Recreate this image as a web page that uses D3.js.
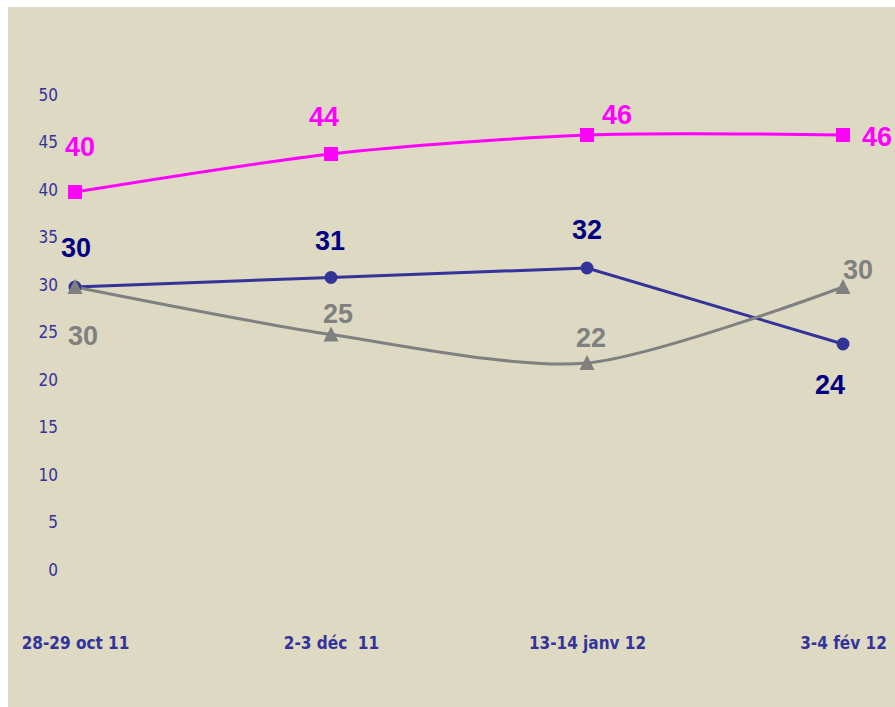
<!DOCTYPE html>
<html>
<head>
<meta charset="utf-8">
<script src="https://cdn.jsdelivr.net/npm/d3@7"></script>
<style>
  html, body { margin: 0; padding: 0; background: #ffffff; }
  svg { display: block; }
</style>
</head>
<body>
<svg id="chart" width="895" height="707"></svg>
<script>
const categories = ["28-29 oct 11", "2-3 déc  11", "13-14 janv 12", "3-4 fév 12"];
const seriesPink = [40, 44, 46, 46];
const seriesNavy = [30, 31, 32, 24];
const seriesGray = [30, 25, 22, 30];
const yTicks = [0, 5, 10, 15, 20, 25, 30, 35, 40, 45, 50];

const svg = d3.select("#chart");
svg.append("rect").attr("x", 8).attr("y", 7).attr("width", 887).attr("height", 700).attr("fill", "#DDD9C3");

const x = d3.scalePoint().domain(categories).range([75, 843]);
const y = d3.scaleLinear().domain([0, 50]).range([572, 97]);

// y axis labels
const yAxis = d3.axisLeft(y).tickValues(yTicks).tickSize(0).tickPadding(0);
const gy = svg.append("g").attr("transform", "translate(58,3)").call(yAxis);
gy.select(".domain").remove();
gy.selectAll("text")
  .attr("fill", "#333399")
  .attr("font-family", "'DejaVu Sans Condensed', 'DejaVu Sans', sans-serif")
  .attr("font-size", 17)
  .attr("dy", "0.02em");

// x axis labels
const xAxis = d3.axisBottom(x).tickSize(0).tickPadding(0);
const gx = svg.append("g").attr("transform", "translate(0,637)").call(xAxis);
gx.select(".domain").remove();
gx.selectAll("text")
  .attr("fill", "#333399")
  .attr("font-family", "'DejaVu Sans Condensed', 'DejaVu Sans', sans-serif")
  .attr("font-weight", "bold")
  .attr("font-size", 17)
  .attr("dy", "0.71em")
  .style("white-space", "pre");

const smooth = d3.line()
  .x((d, i) => x(categories[i]))
  .y(d => y(d))
  .curve(d3.curveCardinal.tension(0.2));
const straight = d3.line()
  .x((d, i) => x(categories[i]))
  .y(d => y(d));

const series = [
  { vals: seriesPink, color: "#FF00FF", marker: "square", labelColor: "#FF00FF", line: smooth,
    dx: [5, -7, 30, 34], dy: [-45, -37, -20, 2] },
  { vals: seriesNavy, color: "#333399", marker: "circle", labelColor: "#000080", line: straight,
    dx: [1, -1, 0, -13], dy: [-39, -37, -38, 41] },
  { vals: seriesGray, color: "#808080", marker: "triangle", labelColor: "#808080", line: smooth,
    dx: [8, 7, 4, 15], dy: [49, -21, -25, -17] }
];

series.forEach(s => {
  svg.append("path").datum(s.vals)
    .attr("d", s.line)
    .attr("fill", "none")
    .attr("stroke", s.color)
    .attr("stroke-width", 3);
});
series.forEach(s => {
  const g = svg.append("g");
  s.vals.forEach((v, i) => {
    const cx = x(categories[i]), cy = y(v);
    if (s.marker === "square") {
      g.append("rect").attr("x", cx - 7).attr("y", cy - 7).attr("width", 14).attr("height", 14).attr("fill", s.color);
    } else if (s.marker === "circle") {
      g.append("circle").attr("cx", cx).attr("cy", cy).attr("r", 6.5).attr("fill", s.color);
    } else {
      g.append("path").attr("d", `M${cx},${cy - 8}L${cx + 7.5},${cy + 7}L${cx - 7.5},${cy + 7}Z`).attr("fill", s.color);
    }
  });
});

// data labels
series.forEach(s => {
  s.vals.forEach((v, i) => {
    svg.append("text")
      .attr("x", x(categories[i]) + s.dx[i])
      .attr("y", y(v) + s.dy[i])
      .attr("text-anchor", "middle")
      .attr("font-family", "'Liberation Sans', Arial, sans-serif")
      .attr("font-weight", "bold")
      .attr("font-size", 27)
      .attr("dy", "0.35em")
      .attr("fill", s.labelColor)
      .text(v);
  });
});
</script>
</body>
</html>
